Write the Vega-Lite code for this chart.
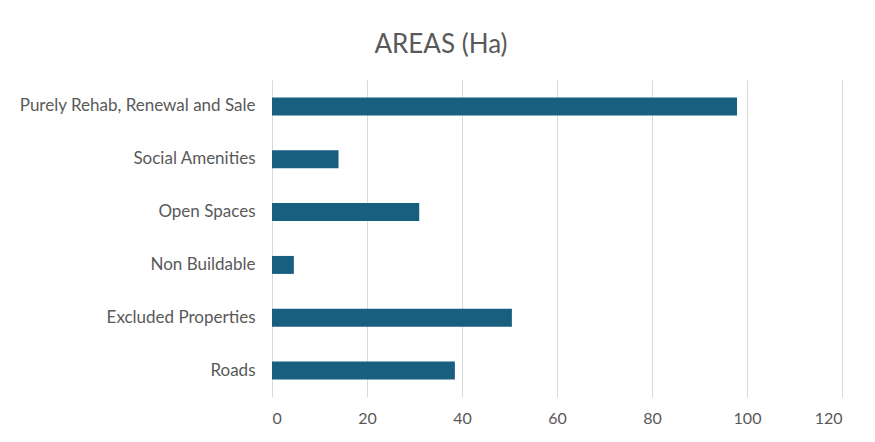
{
  "$schema": "https://vega.github.io/schema/vega-lite/v6.json",
  "width": 570,
  "height": 317,
  "autosize": {"type": "none"},
  "padding": {"left": 272, "top": 80, "right": 33, "bottom": 45},
  "background": "white",
  "title": {
    "text": "AREAS (Ha)",
    "font": "Lato",
    "fontSize": 26,
    "fontWeight": "normal",
    "color": "#595959",
    "anchor": "middle",
    "dx": -116,
    "offset": 22
  },
  "data": {
    "values": [
      {"category": "Purely Rehab, Renewal and Sale", "area": 97.9},
      {"category": "Social Amenities", "area": 14.0},
      {"category": "Open Spaces", "area": 31.0},
      {"category": "Non Buildable", "area": 4.6},
      {"category": "Excluded Properties", "area": 50.5},
      {"category": "Roads", "area": 38.5}
    ]
  },
  "mark": {"type": "bar", "color": "#175e7f"},
  "encoding": {
    "y": {
      "field": "category",
      "type": "nominal",
      "sort": null,
      "title": null,
      "scale": {"paddingInner": 0.66, "paddingOuter": 0.33},
      "axis": {
        "domain": false,
        "ticks": false,
        "labelFont": "Lato",
        "labelFontSize": 17,
        "labelColor": "#595959",
        "labelPadding": 17,
        "labelLimit": 300
      }
    },
    "x": {
      "field": "area",
      "type": "quantitative",
      "title": null,
      "scale": {"domain": [0, 120], "nice": false},
      "axis": {
        "values": [0, 20, 40, 60, 80, 100, 120],
        "domain": false,
        "ticks": false,
        "grid": true,
        "gridColor": "#d9d9d9",
        "gridWidth": 1,
        "labelFont": "Lato",
        "labelFontSize": 16,
        "labelColor": "#595959",
        "labelPadding": 13
      }
    }
  },
  "config": {"view": {"stroke": null}}
}
